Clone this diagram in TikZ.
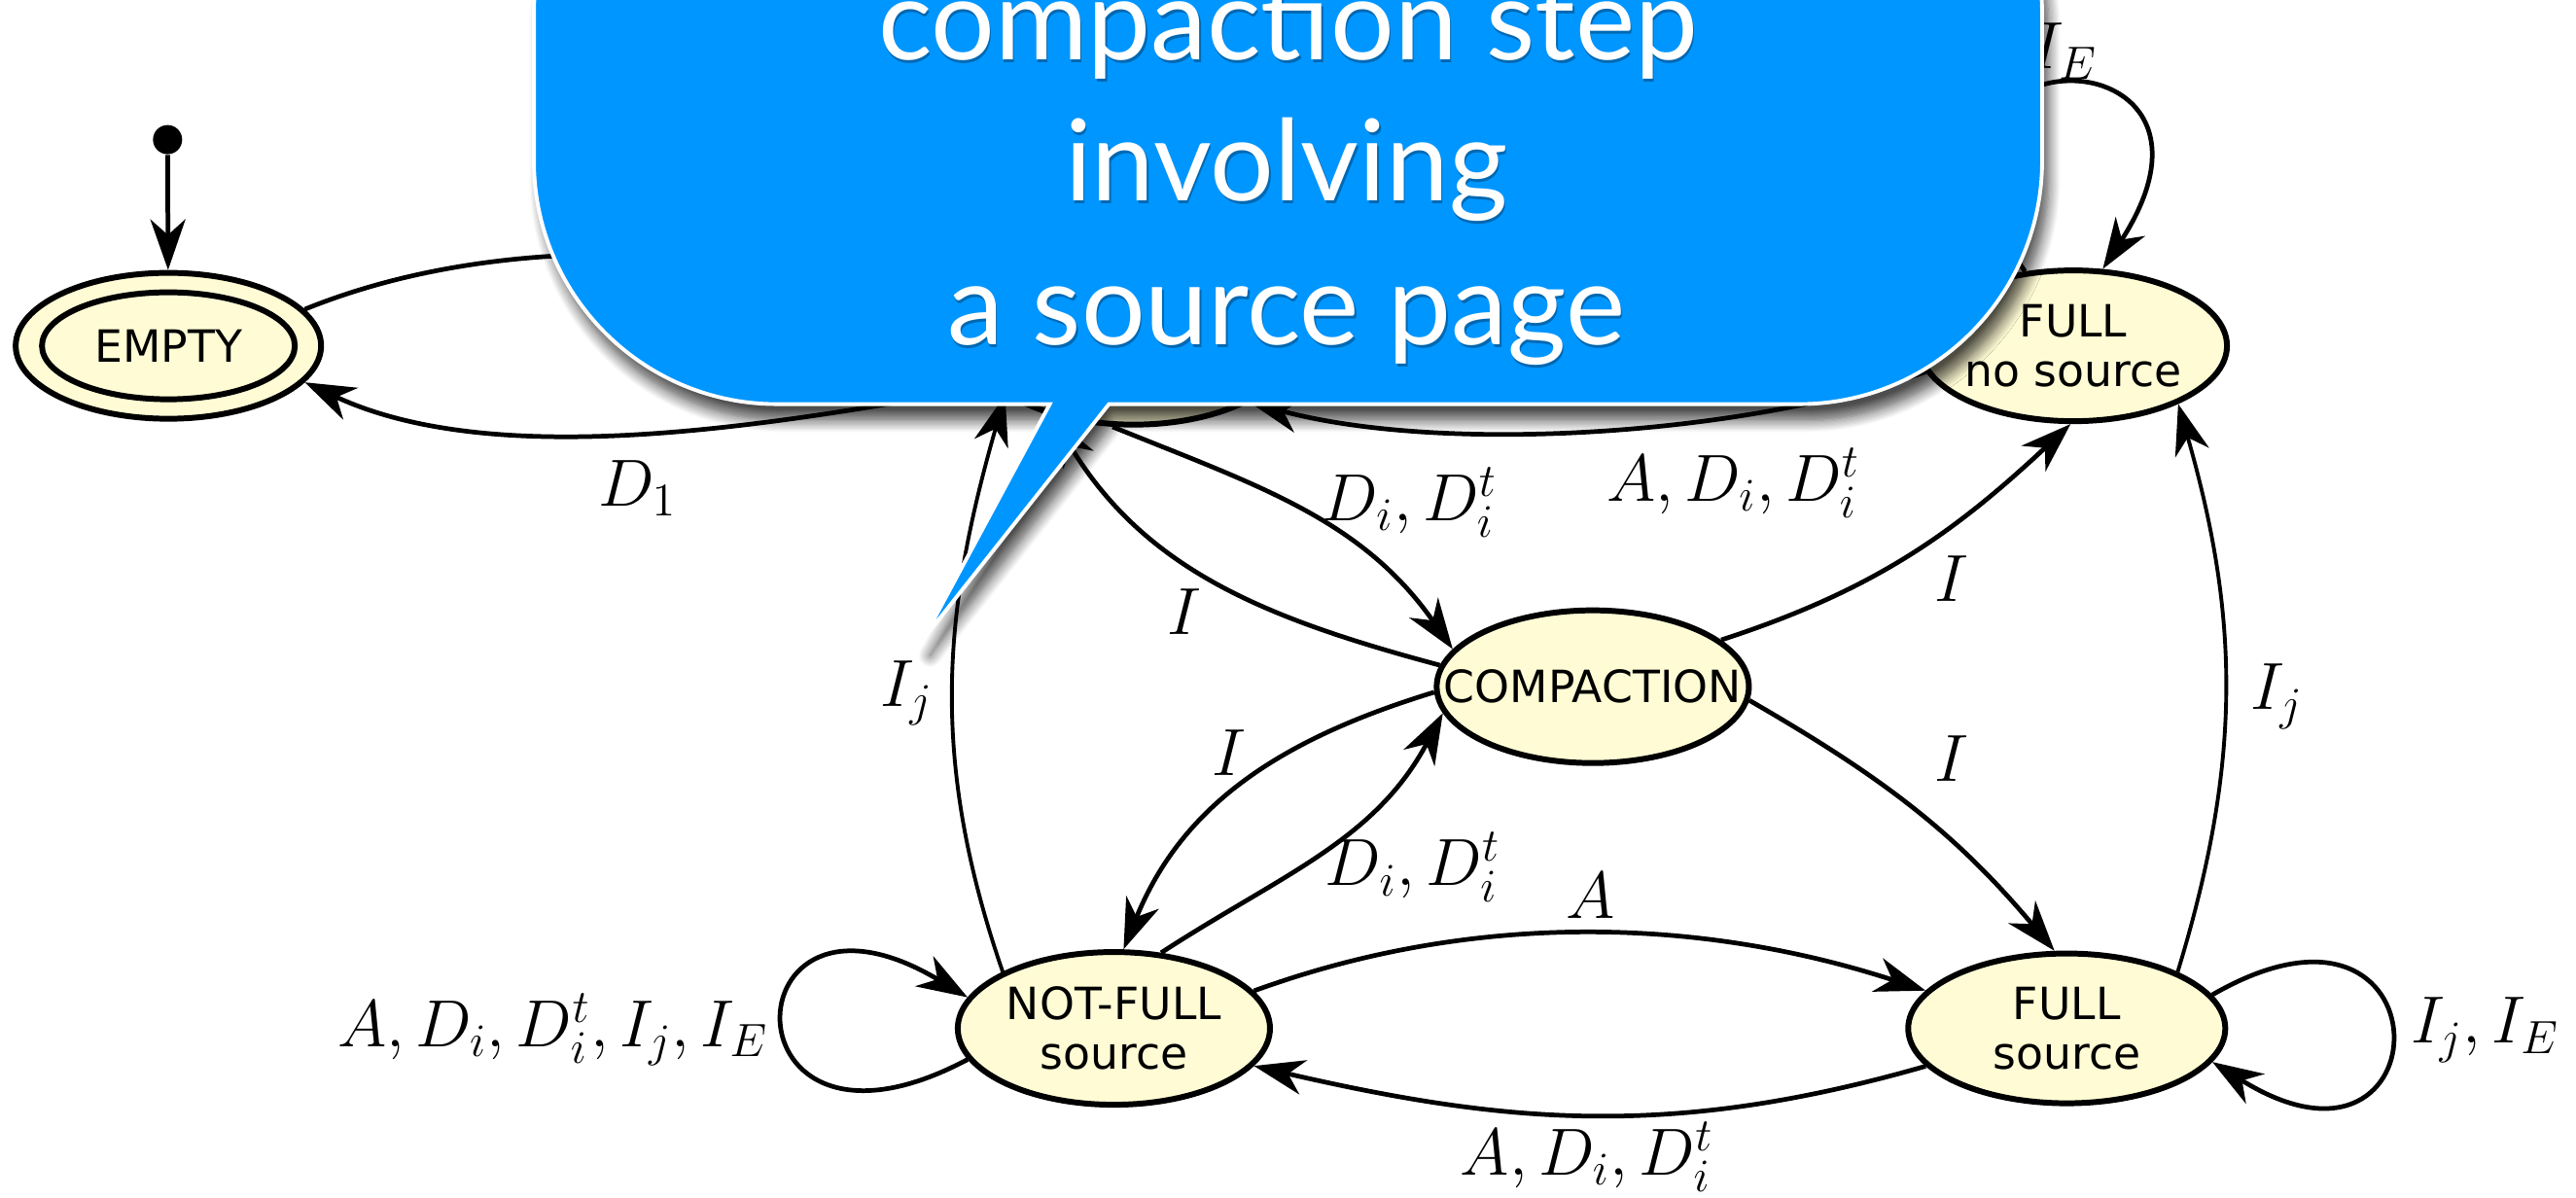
\RequirePackage{fix-cm}
\documentclass[tikz,border=0pt]{standalone}
\usepackage{fontspec}
\newfontfamily\statefont{DejaVu Sans}
\newfontfamily\bubblefont{Lato}
\usetikzlibrary{arrows.meta,shapes.geometric,shadows.blur}
\definecolor{statefill}{RGB}{255,252,213}
\definecolor{bubbleblue}{RGB}{0,150,255}
% zero-width line so the ellipse keeps its given size
\newcommand{\zw}[1]{\makebox[0pt]{#1}}
\tikzset{
  state/.style={ellipse, draw=black, line width=1.7pt, fill=statefill, inner sep=0pt,
    minimum width=3.21cm, minimum height=1.57cm, align=center,
    font=\statefont\fontsize{13}{14.5}\selectfont},
  arr/.style={line width=1.35pt, -{Stealth[length=0.52cm,width=0.36cm,inset=0.16cm]}},
  thinarr/.style={arr, line width=1.1pt},
  lbl/.style={inner sep=0pt, font=\fontsize{19.5}{23}\selectfont},
  bubbletext/.style={inner sep=0pt, text=white, font=\bubblefont\fontsize{33}{40}\selectfont},
  bubbleshade/.style={inner sep=0pt, text=black, opacity=0.3, font=\bubblefont\fontsize{33}{40}\selectfont},
}
\begin{document}
\begin{tikzpicture}[x=0.016894cm, y=0.016894cm]
\useasboundingbox (0,0) rectangle (1568,-729);
\begin{scope}
\clip (0,0) rectangle (1568,-729);

% states
\node[state, minimum width=3.14cm, minimum height=1.50cm] (empty) at (102.5,-210.5) {};
\node[state, fill=none, minimum width=2.60cm, minimum height=1.10cm] (emptyin) at (102.5,-210.5) {\zw{EMPTY}};
\node[state] (hid) at (690,-212) {};
\node[state, minimum width=3.16cm, minimum height=1.55cm] (fns) at (1262,-210.5) {\zw{FULL}\\\zw{no source}};
\node[state] (comp) at (969.5,-418) {\zw{COMPACTION}};
\node[state] (nfs) at (678,-626) {\zw{NOT-FULL}\\\zw{source}};
\node[state, minimum width=3.26cm, minimum height=1.54cm] (fs) at (1258,-626) {\zw{FULL}\\\zw{source}};
\node[circle, fill=black, inner sep=0pt, minimum size=0.3cm] (init) at (102,-85) {};

% transitions
\draw[arr] (init) -- (empty);
\draw[arr] (empty.15) to[out=22,in=165,looseness=0.85] (hid.165);
\draw[arr] (hid.195) to[out=190,in=-25,looseness=0.8] (empty.-15);
\draw[arr] (fns.190) to[out=199,in=-15,looseness=0.75] (hid.-25);
\draw[arr] (hid.-105) to[out=-22,in=125] (comp.165);
\draw[arr] (comp.172) to[out=165,in=-59] (hid.-140);
\draw[thinarr] (nfs.153) to[out=109,in=-106] (hid.-160);
\draw[arr] (comp.20) to[out=18,in=-137] (fns.-92);
\draw[arr] (comp.-5) to[out=-30,in=130] (fs.99);
\draw[thinarr] (fs.27) to[out=73,in=-74] (fns.-29);
\draw[arr] (comp.182) to[out=197,in=68] (nfs.83);
\draw[arr] (nfs.58) to[out=33,in=-118] (comp.190);
\draw[arr] (nfs.15) to[out=20,in=162,looseness=0.9] (fs.165);
\draw[arr] (fs.195) to[out=196,in=-13] (nfs.-15);
\draw[arr] (nfs.192) to[out=208,in=149,distance=2.9cm] (nfs.168);
\draw[arr] (fs.13) to[out=30,in=-32,distance=2.85cm] (fs.-13);
\draw[arr] (fns.123) to[out=125,in=57,distance=3.07cm] (fns.69);

% transition labels
\node[lbl] (lD1) at (388,-297) {$D_1$};
\node[lbl] (lADt) at (1055,-294) {$A, D_i, D_i^t$};
\node[lbl] (lDhc) at (858,-306) {$D_i, D_i^t$};
\node[lbl] (lIch) at (721,-372.5) {$I$};
\node[lbl] (lIjn) at (552,-422) {$I_j$};
\node[lbl] (lIcf) at (1188,-352) {$I$};
\node[lbl] (lIcs) at (1188,-462) {$I$};
\node[lbl] (lIjs) at (1386,-424) {$I_j$};
\node[lbl] (lIcn) at (748,-458) {$I$};
\node[lbl] (lDnc) at (860,-528) {$D_i, D_i^t$};
\node[lbl] (lA) at (968,-545) {$A$};
\node[lbl] (lADb) at (966,-704) {$A, D_i, D_i^t$};
\node[lbl, anchor=east] (lnfs) at (468,-627) {$A, D_i, D_i^t, I_j, I_E$};
\node[lbl, anchor=west] (lfs) at (1467,-627) {$I_j, I_E$};
\node[lbl, anchor=base east] (lfns) at (1277,-42) {$I_j, I_E$};

% speech bubble
\path[fill=bubbleblue, draw=white, line width=1.1pt,
  blur shadow={shadow xshift=0.07cm, shadow yshift=-0.17cm, shadow blur radius=0.12cm,
    shadow blur steps=10, shadow opacity=70}]
  (325,-8) -- (325,-98) .. controls (325,-179.7) and (391.3,-246) .. (473,-246)
  -- (639,-246) -- (562,-389) -- (675,-246) -- (1095,-246)
  .. controls (1176.7,-246) and (1243,-179.7) .. (1243,-98) -- (1243,-8)
  .. controls (1243,73.7) and (1176.7,140) .. (1095,140) -- (473,140)
  .. controls (391.3,140) and (325,73.7) .. (325,-8) -- cycle;

\node[bubbleshade, anchor=base] (sh1) at (784.8,-38) {compaction step};
\node[bubbleshade, anchor=base] (sh2) at (783.8,-124) {involving};
\node[bubbleshade, anchor=base] (sh3) at (783.8,-211.5) {a source page};
\node[bubbletext, anchor=base] (tx1) at (784,-36.5) {compaction step};
\node[bubbletext, anchor=base] (tx2) at (783,-122.5) {involving};
\node[bubbletext, anchor=base] (tx3) at (783,-210) {a source page};
\end{scope}
\end{tikzpicture}
\end{document}
